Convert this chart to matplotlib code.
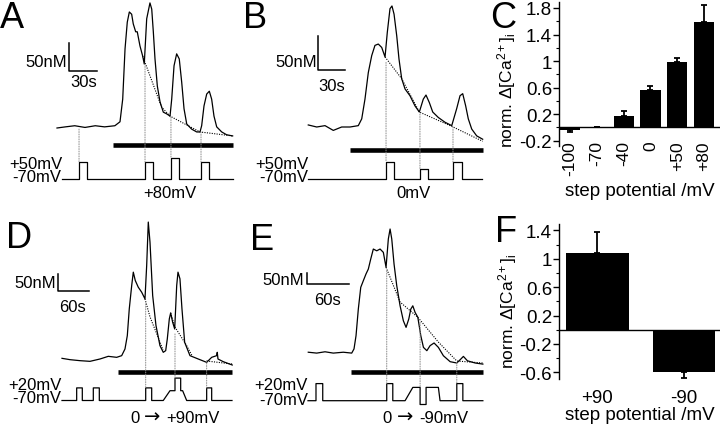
"""
Depolarisation steps and [Ca2+]i transients: four example traces with their
voltage protocols (A, B, D, E) and two bar charts of normalised responses (C, F).
"""

import numpy as np
import matplotlib
matplotlib.use("Agg")
import matplotlib.pyplot as plt
from matplotlib.patches import ConnectionPatch

plt.rcParams["font.family"] = ["Liberation Sans", "DejaVu Sans"]
plt.rcParams["mathtext.fontset"] = "custom"
plt.rcParams["mathtext.rm"] = "Liberation Sans"
plt.rcParams["mathtext.it"] = "Liberation Sans:italic"

NAN = np.nan

# ---- A: trace (s, nM above rest), decay fit, protocol (s, mV)
a_time = [0, 9, 19, 30, 41, 51, 62, 67.5, 70.4, 72.9, 75.3, 77.5, 80, 81.7, 84.3,
          86, 88.9, 91.8, 93.5, 96.1, 99.6, 101.5, 103.2, 105, 107.5, 110.4, 113.9,
          117.5, 121.1, 122.9, 125.4, 128.2, 131, 133.6, 136.1, 139, 144.3, 149.7,
          153.2, 155, 157.5, 160.4, 163.2, 165.7, 168.2, 171.1, 176.5, 181.8, 188.2]
a_conc = [0, 2, 4, 1, 4, 2, 4, 11, 51, 140, 187, 205, 201, 184, 170,
          170, 145, 127, 113, 193, 221, 210, 170, 122, 74, 46, 28,
          25, 21, 51, 110, 131, 122, 81, 34, 7, -2, -7,
          -7, 4, 39, 60, 65, 51, 21, 2, -7, -12, -14]
a_fit_time = [91.8, 112, 121.1, 153.2, 188.2]
a_fit_conc = [127, 37, 21, -7, -14]
a_prot_time = [5.4, 23.6, 23.6, 32.1, 32.1, 94.3, 94.3, 102.9, 102.9, 122.1, 122.1,
               130.7, 130.7, 154.3, 154.3, 162.9, 162.9, 188.6]
a_prot_mv = [-70, -70, 50, 50, -70, -70, 50, 50, -70, -70, 80, 80, -70, -70, 50, 50, -70, -70]
a_onset = [23.6, 94.3, 122.1, 154.3]
a_onset_conc = [-2, 113, 19, -7]
a_onset_mv = [50, 50, 80, 50]
a_drug = [60, 188.6]

# ---- B
b_time = [0.3, 9.7, 18.9, 28.1, 37.4, 46.7, 55.9, 59.7, 63.3, 67, 70.8, 74.4, 78.1,
          81.9, 85.6, 88.1, 91.1, 93.3, 95.6, 98.6, 101.1, 104.1, 107.8, 113.3, 118.9,
          123.7, 128.1, 131.1, 134.8, 138.6, 144.8, 152.2, 159.7, 165.2, 168.9, 171.9,
          175.2, 178.1, 181.9, 187.4, 194.1]
b_conc = [3, 0, 2, -5, 0, 0, 2, 12, 41, 80, 105, 120, 122,
          117, 103, 139, 174, 178, 166, 134, 100, 71, 56, 46, 31,
          22, 41, 47, 36, 22, 14, 7, 2, 27, 46, 49,
          31, 12, -3, -13, -18]
b_fit_time = [85.6, 104.1, 123.7, 159.7, 194.1]
b_fit_conc = [103, 71, 22, 1, -21]
b_prot_time = [0, 86.7, 86.7, 95.6, 95.6, 124.4, 124.4, 133.3, 133.3, 161.1, 161.1,
               171.1, 171.1, 193.3]
b_prot_mv = [-70, -70, 50, 50, -70, -70, 0, 0, -70, -70, 50, 50, -70, -70]
b_onset = [86.7, 124.4, 161.1]
b_onset_conc = [95, 19, 0]
b_onset_mv = [50, 0, 50]
b_drug = [46.7, 194.4]

# ---- C
c_labels = ["-100", "-70", "-40", "0", "+50", "+80"]
c_mean = [-0.035, 0, 0.166, 0.568, 0.98, 1.585]
c_err_low = [0.03, 0, 0, 0, 0, 0]
c_err_high = [0, 0, 0.085, 0.05, 0.06, 0.265]

# ---- D
d_time = [0, 15.5, 34.8, 54.2, 73.5, 89.6, 105.8, 115.5, 121.9, 126.4, 130.2, 134.9,
          138, 141.8, 147.6, 154.2, 160.6, 163.9, 167, 170.3, 175.5, 181.9, 189.6,
          196, 200.7, 203.8, 207.7, 210.3, 214.2, 218.1, 222, 224.5, 228.3, 232.2,
          237.4, 247.7, 263.7, 280, 289.7, 299.3, 300.5, 301.9, 312.1, 329.5]
d_conc = [5, 1, -2, -4, 3, 11, 8, 13, 33, 73, 153, 223,
          263, 238, 218, 203, 183, 283, 413, 353, 193, 103, 43,
          23, 28, 63, 123, 141, 113, 93, 223, 263, 243, 153,
          53, 13, 3, -7, 8, 13, 23, 3, -5, -15]
d_fit_time = [160.6, 170.3, 185.8, 195.5, NAN, 210.3, 218.1, 241.3, 252, NAN, 280, 329.5]
d_fit_conc = [183, 129, 69, 30, NAN, 141, 100, 43, 12, NAN, -3, -12]
d_prot_time = [0, 28.4, 28.4, 39.3, 39.3, 60.6, 60.6, 72.2, 72.2, 162, 162, 173.6, 173.6,
               196, 209, 218.7, 218.7, 229.7, 229.7, 233.5, 241.3, 280, 280, 289.7, 289.7, 329]
d_prot_mv = [-70, -70, 20, 20, -70, -70, 20, 20, -70, -70, 20, 20, -70,
             -70, 0, 0, 90, 90, 0, 0, -70, -70, 20, 20, -70, -70]
d_onset = [162, 218.7, 280]
d_onset_conc = [168, 78, -2]
d_onset_mv = [20, 90, 20]
d_drug = [108.4, 329]

# ---- E
e_time = [0.4, 12.5, 24.5, 36.4, 50.8, 62.9, 66.2, 69.1, 72.4, 75.9, 79.6, 83.5, 86.8,
          90.3, 94, 98.9, 103.7, 108.4, 112.3, 115.6, 118.1, 120.5, 123.8, 127.7, 132.5,
          137.2, 141.1, 145, 147.9, 150.8, 154.1, 158, 162.3, 166.1, 171, 175.7, 181.4,
          187.6, 194.8, 204.5, 214.1, 219.9, 223.6, 229.4, 240.5, 251.6]
e_conc = [-1, -5, 1, -5, -1, -5, 14, 74, 195, 294, 324, 355, 377,
          423, 468, 460, 468, 453, 385, 514, 559, 514, 400, 301, 210,
          142, 112, 150, 195, 210, 180, 158, 74, 21, 6, 29, 41,
          21, -17, -44, -50, -32, -20, -40, -50, -55]
e_fit_time = [112.3, 132.5, 158, 187.6, 214.1, 251.6]
e_fit_conc = [385, 227, 158, 45, -41, -50]
e_prot_time = [0, 11.5, 11.5, 21.2, 21.2, 113.3, 113.3, 122, 122, 139.7, 150.8, 161.3,
               161.3, 169.9, 169.9, 187.6, 190, 214.1, 214.1, 222.8, 222.8, 251.6]
e_prot_mv = [-70, -70, 20, 20, -70, -70, 20, 20, -70, -70, 0, 0,
             -90, -90, 0, 0, -70, -70, 20, 20, -70, -70]
e_onset = [113.3, 161.3, 214.1]
e_onset_conc = [369, 135, -47]
e_onset_mv = [20, 0, 20]
e_drug = [61.9, 252]

# ---- F
f_labels = ["+90", "-90"]
f_mean = [1.08, -0.59]
f_err_low = [0, 0.095]
f_err_high = [0.297, 0]

W, H = 720, 427
FS = 12
fig = plt.figure(figsize=(W / 100, H / 100), dpi=100)


def px_axes(left, top, right, bottom):
    return fig.add_axes([left / W, 1 - bottom / H, (right - left) / W, (bottom - top) / H])


def trace_panel(box, t0, s_px, base, nm_px, mv_base, mv_px):
    """Trace axes (s, nM) over a protocol axes (s, mV) sharing the time scale."""
    left, top, mid, right, bottom = box
    xlim = ((left - t0) * s_px, (right - t0) * s_px)
    ax = px_axes(left, top, right, mid)
    ax.set_xlim(xlim)
    ax.set_ylim((base - mid) * nm_px, (base - top) * nm_px)
    ax.axis("off")
    pax = px_axes(left, mid, right, bottom)
    pax.set_xlim(xlim)
    pax.set_ylim(-70 - (bottom - mv_base) * mv_px, -70 + (mv_base - mid) * mv_px)
    pax.axis("off")
    return ax, pax


def draw_traces(ax, pax, time, conc, fit_time, fit_conc, prot_time, prot_mv,
                onset, onset_conc, onset_mv, drug, drug_y):
    ax.plot(time, conc, color="black", lw=0.9, clip_on=False)
    ax.plot(fit_time, fit_conc, color="black", lw=0.8, ls=(0, (1, 1.2)), clip_on=False)
    ax.plot(drug, [drug_y, drug_y], color="black", lw=3.3, solid_capstyle="butt", clip_on=False)
    pax.plot(prot_time, prot_mv, color="black", lw=0.9, clip_on=False)
    for t, c, v in zip(onset, onset_conc, onset_mv):
        con = ConnectionPatch(xyA=(t, c), coordsA=ax.transData, xyB=(t, v), coordsB=pax.transData,
                              color="0.55", lw=0.7, ls=(0, (1, 1.5)))
        fig.add_artist(con)


def scale_bar(ax, x, y, dt, dc):
    ax.plot([x, x, x + dt], [y + dc, y, y], color="black", lw=1.1, clip_on=False)


def step_label(pax, x, y, before, after):
    """'0 -> +90mV' style label, arrow centred on x."""
    pax.text(x, y, "\u2192", family="DejaVu Sans", fontsize=FS + 2, ha="center", va="baseline")
    pax.annotate(before, (x, y), xytext=(-9.5, 0), textcoords="offset points",
                 ha="right", va="baseline", fontsize=FS)
    pax.annotate(after, (x, y), xytext=(10, 0), textcoords="offset points",
                 ha="left", va="baseline", fontsize=FS)


# ---------------- A
ax, pax = trace_panel((45, 0, 150, 240, 205), 57, 30 / 28, 129, 50 / 28.3, 180, 1 / 0.1417)
draw_traces(ax, pax, a_time, a_conc, a_fit_time, a_fit_conc, a_prot_time, a_prot_mv,
            a_onset, a_onset_conc, a_onset_mv, a_drug, -30)
scale_bar(ax, 12.9, 100.7, 30, 50)
ax.text(10.7, 109.5, "50nM", ha="right", va="baseline", fontsize=FS)
ax.text(28.4, 74.2, "30s", ha="center", va="baseline", fontsize=FS)
pax.text(5.4, 8, "+50mV", ha="right", va="baseline", fontsize=FS)
pax.text(4.3, -82, "-70mV", ha="right", va="baseline", fontsize=FS)
pax.text(121, -199, "+80mV", ha="center", va="baseline", fontsize=FS)

# ---------------- B
ax, pax = trace_panel((295, 0, 155, 490, 205), 308, 30 / 27, 128, 50 / 34, 180, 1 / 0.1417)
draw_traces(ax, pax, b_time, b_conc, b_fit_time, b_fit_conc, b_prot_time, b_prot_mv,
            b_onset, b_onset_conc, b_onset_mv, b_drug, -33.8)
scale_bar(ax, 11.1, 83.8, 30, 50)
ax.text(10, 90.1, "50nM", ha="right", va="baseline", fontsize=FS)
ax.text(26.1, 54.8, "30s", ha="center", va="baseline", fontsize=FS)
pax.text(0, 8, "+50mV", ha="right", va="baseline", fontsize=FS)
pax.text(0, -82, "-70mV", ha="right", va="baseline", fontsize=FS)
pax.text(116.7, -199, "0mV", ha="center", va="baseline", fontsize=FS)

# ---------------- D
ax, pax = trace_panel((45, 215, 376, 240, 427), 62, 60 / 31, 361, 50 / 16.7, 401.5, 1 / 0.14)
draw_traces(ax, pax, d_time, d_conc, d_fit_time, d_fit_conc, d_prot_time, d_prot_mv,
            d_onset, d_onset_conc, d_onset_mv, d_drug, -36)
scale_bar(ax, -7.2, 208, 60, 50)
ax.text(-11.6, 218, "50nM", ha="right", va="baseline", fontsize=FS)
ax.text(20, 148, "60s", ha="center", va="baseline", fontsize=FS)
pax.text(-0.6, 12, "+20mV", ha="right", va="baseline", fontsize=FS)
pax.text(-0.6, -83, "-70mV", ha="right", va="baseline", fontsize=FS)
step_label(pax, 175, -225, "0", "+90mV")

# ---------------- E
ax, pax = trace_panel((295, 215, 376, 490, 427), 308, 60 / 41.7, 353, 50 / 11, 401.7, 1 / 0.19)
draw_traces(ax, pax, e_time, e_conc, e_fit_time, e_fit_conc, e_prot_time, e_prot_mv,
            e_onset, e_onset_conc, e_onset_mv, e_drug, -91)
scale_bar(ax, -1.4, 309, 60, 50)
ax.text(-6, 309, "50nM", ha="right", va="baseline", fontsize=FS)
ax.text(28.1, 218, "60s", ha="center", va="baseline", fontsize=FS)
pax.text(0, -8.4, "+20mV", ha="right", va="baseline", fontsize=FS)
pax.text(0, -90, "-70mV", ha="right", va="baseline", fontsize=FS)
step_label(pax, 140, -183, "0", "-90mV")


# ---------------- bar charts
YLABEL = r"norm. $\Delta[\mathrm{Ca}^{2+}]_\mathrm{i}$"


def bar_panel(ax, labels, mean, err_low, err_high, width, ticks, minor, rot, xfs):
    x = np.arange(len(labels))
    ax.bar(x, mean, width=width, color="black",
           yerr=[err_low, err_high], error_kw=dict(ecolor="black", elinewidth=1.3, capsize=2.5, capthick=1.3))
    ax.axhline(0, color="black", lw=1)
    for side in ("top", "right", "bottom"):
        ax.spines[side].set_visible(False)
    ax.spines["left"].set_linewidth(1)
    ax.set_yticks(ticks)
    ax.set_yticklabels([f"{t:g}" for t in ticks], fontsize=13.5)
    ax.set_yticks(minor, minor=True)
    ax.tick_params(axis="y", which="major", length=4, width=1, pad=1)
    ax.tick_params(axis="y", which="minor", length=2, width=0.8)
    ax.set_xticks(x)
    ax.set_xticklabels(labels, rotation=rot, fontsize=xfs)
    ax.set_ylabel(YLABEL, fontsize=12.5)
    ax.set_xlabel("step potential /mV", fontsize=13.5)


ax = px_axes(559, 3, 721, 147)
bar_panel(ax, c_labels, c_mean, c_err_low, c_err_high, 0.75,
          [-0.2, 0.2, 0.6, 1, 1.4, 1.8], [0, 0.4, 0.8, 1.2, 1.6], 90, 12.5)
ax.set_xlim(-0.41, 5.63)
ax.set_ylim(-0.28, 1.89)
ax.tick_params(axis="x", length=0, pad=-4)
ax.yaxis.set_label_coords(-0.25, 0.39)
ax.xaxis.set_label_coords(0.5, -0.25)

ax = px_axes(559, 225, 720, 380)
bar_panel(ax, f_labels, f_mean, f_err_low, f_err_high, 0.72,
          [-0.6, -0.2, 0.2, 0.6, 1, 1.4], [-0.4, 0, 0.4, 0.8, 1.2], 0, 13.5)
ax.set_xlim(-0.445, 1.416)
ax.set_ylim(-0.695, 1.49)
ax.tick_params(axis="x", length=0, pad=7)
ax.yaxis.set_label_coords(-0.25, 0.44)
ax.xaxis.set_label_coords(0.5, -0.175)

# ---------------- panel letters
for letter, x, y in [("A", 0, 28), ("B", 243, 28), ("C", 490, 28),
                     ("D", 6, 248), ("E", 250, 250), ("F", 495, 242)]:
    fig.text(x / W, 1 - y / H, letter, fontsize=26, ha="left", va="baseline")

fig.savefig("out.png", dpi=100)
